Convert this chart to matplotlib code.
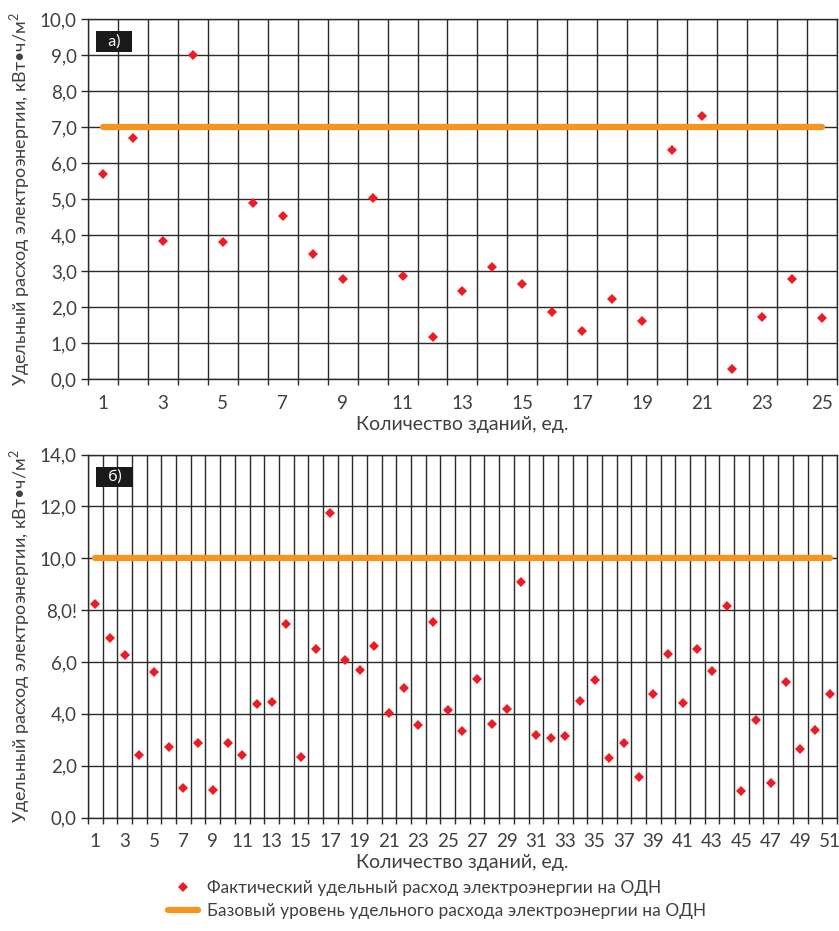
import matplotlib
matplotlib.use('Agg')
import matplotlib.pyplot as plt
import numpy as np

# ================= Data =================
# panel a) - 25 buildings
values_a = [5.70, 6.69, 3.85, 9.00, 3.80, 4.89, 4.52, 3.47, 2.79, 5.03,
            2.87, 1.18, 2.45, 3.13, 2.64, 1.88, 1.35, 2.23, 1.62, 6.36,
            7.32, 0.28, 1.73, 2.78, 1.70]
base_a = 7.0

# panel b) - 51 buildings
values_b = [8.22, 6.91, 6.28, 2.40, 5.63, 2.71, 1.15, 2.89, 1.05, 2.89,
            2.40, 4.37, 4.44, 7.45, 2.35, 6.49, 11.74, 6.08, 5.69, 6.60,
            4.02, 5.00, 3.57, 7.53, 4.16, 3.34, 5.33, 3.59, 4.17, 9.07,
            3.20, 3.05, 3.16, 4.51, 5.32, 2.28, 2.87, 1.58, 4.75, 6.30,
            4.43, 6.49, 5.64, 8.16, 1.01, 3.76, 1.33, 5.22, 2.63, 3.39,
            4.76]
base_b = 10.0

yticks_a = [0, 1, 2, 3, 4, 5, 6, 7, 8, 9, 10]
ylabels_a = ['0,0', '1,0', '2,0', '3,0', '4,0', '5,0', '6,0', '7,0', '8,0', '9,0', '10,0']
yticks_b = [0, 2, 4, 6, 8, 10, 12, 14]
ylabels_b = ['0,0', '2,0', '4,0', '6,0', '8,0!', '10,0', '12,0', '14,0']

ylabel = 'Удельный расход электроэнергии, кВт•ч/м$^2$'
xlabel = 'Количество зданий, ед.'
legend_points = 'Фактический удельный расход электроэнергии на ОДН'
legend_line = 'Базовый уровень удельного расхода электроэнергии на ОДН'

# ================= Style =================
plt.rcParams['font.family'] = ['Lato', 'DejaVu Sans']
plt.rcParams['mathtext.fontset'] = 'custom'
plt.rcParams['mathtext.rm'] = 'Lato'
text_color = '#404040'
red = '#ed1c24'
orange = '#f7941d'
grid_color = '#2a2a2a'

fig = plt.figure(figsize=(8.39, 9.31), dpi=100)
ax_a = fig.add_axes([0.1049, 0.5926, 0.8926, 0.3870])
ax_b = fig.add_axes([0.1049, 0.1219, 0.8926, 0.3898])


def draw_panel(ax, values, base, yticks, ylabels, tag):
    n = len(values)
    x = np.arange(1, n + 1)
    ax.plot([1, n], [base, base], color=orange, lw=4.5, solid_capstyle='round', zorder=2)
    ax.plot(x, values, linestyle='none', marker='D', ms=5.5, color=red,
            markeredgewidth=0, zorder=3)

    ax.set_xlim(0.5, n + 0.5)
    ax.set_ylim(yticks[0], yticks[-1])

    # labels at odd buildings, grid on cell boundaries
    ax.set_xticks(x[::2])
    ax.set_xticklabels([str(v) for v in x[::2]], fontsize=13.5, color=text_color)
    ax.set_xticks(np.arange(0.5, n + 1), minor=True)
    ax.tick_params(axis='x', which='major', length=0, pad=11)
    ax.tick_params(axis='x', which='minor', length=4, width=1, color=grid_color, direction='out')
    ax.grid(True, axis='x', which='minor', color=grid_color, lw=1)

    ax.set_yticks(yticks)
    ax.set_yticklabels(ylabels, fontsize=13.5, color=text_color)
    ax.tick_params(axis='y', length=5, width=1, color=grid_color, pad=3)
    ax.grid(True, axis='y', which='major', color=grid_color, lw=1)

    for s in ax.spines.values():
        s.set_color(grid_color)
        s.set_linewidth(1)
    ax.set_axisbelow(True)

    ax.set_xlabel(xlabel, fontsize=14, color=text_color, labelpad=3)
    ax.set_ylabel(ylabel, fontsize=13, color=text_color, labelpad=6)

    ax.text(0.0155, 0.958, '  ' + tag + '  ', transform=ax.transAxes, fontsize=11.5,
            color='white', va='top', ha='left',
            bbox=dict(boxstyle='square,pad=0.2', fc='#1a1a1a', ec='none'), zorder=5)


draw_panel(ax_a, values_a, base_a, yticks_a, ylabels_a, 'а)')
draw_panel(ax_b, values_b, base_b, yticks_b, ylabels_b, 'б)')

# legend below the charts
h1, = ax_b.plot([], [], linestyle='none', marker='D', ms=5, color=red, markeredgewidth=0)
h2, = ax_b.plot([], [], color=orange, lw=4.5, solid_capstyle='round')
fig.legend([h1, h2], [legend_points, legend_line], loc='lower left',
           bbox_to_anchor=(0.19, 0.004), frameon=False, fontsize=12.5,
           labelcolor=text_color, handlelength=1.75, handletextpad=0.5,
           labelspacing=0.4, borderaxespad=0.1)

fig.savefig('out.png', dpi=100)
